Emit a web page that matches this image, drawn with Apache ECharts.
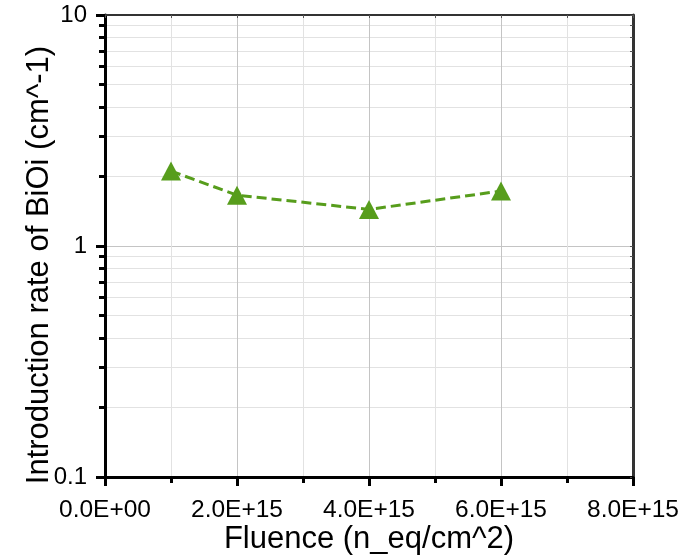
<!DOCTYPE html>
<html><head><meta charset="utf-8">
<script src="https://cdn.jsdelivr.net/npm/echarts@6/dist/echarts.min.js"></script>
<style>html,body{margin:0;padding:0;background:#fff}#c{width:683px;height:557px}</style>
</head><body><div id="c"></div>
<script>
const fluence = [1e15, 2e15, 4e15, 6e15];
const introRate = [2.11, 1.66, 1.44, 1.73];
const yMajorTicks = [0.1, 1, 10];
const yMinorTicks = [0.2,0.3,0.4,0.5,0.6,0.7,0.8,0.9,2,3,4,5,6,7,8,9];
const xTickValues = [0, 2e15, 4e15, 6e15, 8e15];

function fmtExp(v){
  if (v === 0) return '0.0E+00';
  const s = v.toExponential(1).toUpperCase();
  const m = s.match(/^([\d.]+)E([+-])(\d+)$/);
  return m[1] + 'E' + m[2] + (m[3].length < 2 ? '0' + m[3] : m[3]);
}
const font = 'Liberation Sans, Arial, sans-serif';
const chart = echarts.init(document.getElementById('c'), null, {renderer:'canvas'});
chart.setOption({
  animation:false,
  grid:{left:105, right:50, top:15, bottom:80, containLabel:false, outerBoundsMode:'none'},
  xAxis:[{
    type:'value', min:0, max:8e15, interval:2e15,
    name:'Fluence (n_eq/cm^2)', nameLocation:'middle', nameGap:47, nameMoveOverlap:false,
    nameTextStyle:{fontSize:31, color:'#000', fontFamily:font},
    axisLine:{show:true, onZero:false, lineStyle:{color:'#000', width:3}},
    axisTick:{show:true, inside:false, length:9, lineStyle:{color:'#000', width:3}},
    minorTick:{show:true, splitNumber:2, length:6, lineStyle:{color:'#000', width:3}},
    splitLine:{show:true, lineStyle:{color:'#c4c4c4', width:1}},
    minorSplitLine:{show:true, lineStyle:{color:'#e2e2e2', width:1}},
    axisLabel:{fontSize:24.5, color:'#000', fontFamily:font, margin:21, formatter:fmtExp, customValues:xTickValues}
  },{
    type:'value', position:'top', min:0, max:8e15, interval:1e15,
    axisLine:{show:true, onZero:false, lineStyle:{color:'#333', width:2}},
    axisTick:{show:true, inside:true, length:3, lineStyle:{color:'#555', width:1}},
    axisLabel:{show:false}, splitLine:{show:false}
  }],
  yAxis:[{
    type:'log', logBase:10, min:0.1, max:10,
    name:'Introduction rate of BiOi (cm^-1)', nameLocation:'middle', nameGap:50, nameMoveOverlap:false,
    nameTextStyle:{fontSize:31, color:'#000', fontFamily:font, padding:[0,38,0,0]},
    axisLine:{show:true, onZero:false, lineStyle:{color:'#000', width:3}},
    axisTick:{show:true, inside:false, length:9, lineStyle:{color:'#000', width:3}, customValues:yMajorTicks},
    splitLine:{show:true, lineStyle:{color:'#c4c4c4', width:1}},
    axisLabel:{fontSize:24, color:'#000', fontFamily:font, margin:18, customValues:yMajorTicks,
      formatter:function(v){return String(Math.round(v*10)/10);}}
  },{
    type:'log', logBase:10, min:0.1, max:10, position:'left',
    axisLine:{show:false},
    axisTick:{show:true, inside:false, length:6, lineStyle:{color:'#000', width:3}, customValues:yMinorTicks},
    splitLine:{show:true, lineStyle:{color:'#e2e2e2', width:1}},
    axisLabel:{show:false}
  },{
    type:'log', logBase:10, min:0.1, max:10, position:'right',
    axisLine:{show:true, onZero:false, lineStyle:{color:'#333', width:3}},
    axisTick:{show:true, inside:true, length:3, lineStyle:{color:'#555', width:1}, customValues:yMinorTicks.concat(yMajorTicks)},
    splitLine:{show:false}, axisLabel:{show:false}
  }],
  series:[{
    type:'line', xAxisIndex:0, yAxisIndex:0,
    data: fluence.map((x,i)=>[x, introRate[i]]),
    symbol:'triangle', symbolSize:[20,19],
    itemStyle:{color:'#579d1c'},
    lineStyle:{color:'#579d1c', width:3, type:[10,5]},
    z:5
  }]
});
</script></body></html>
